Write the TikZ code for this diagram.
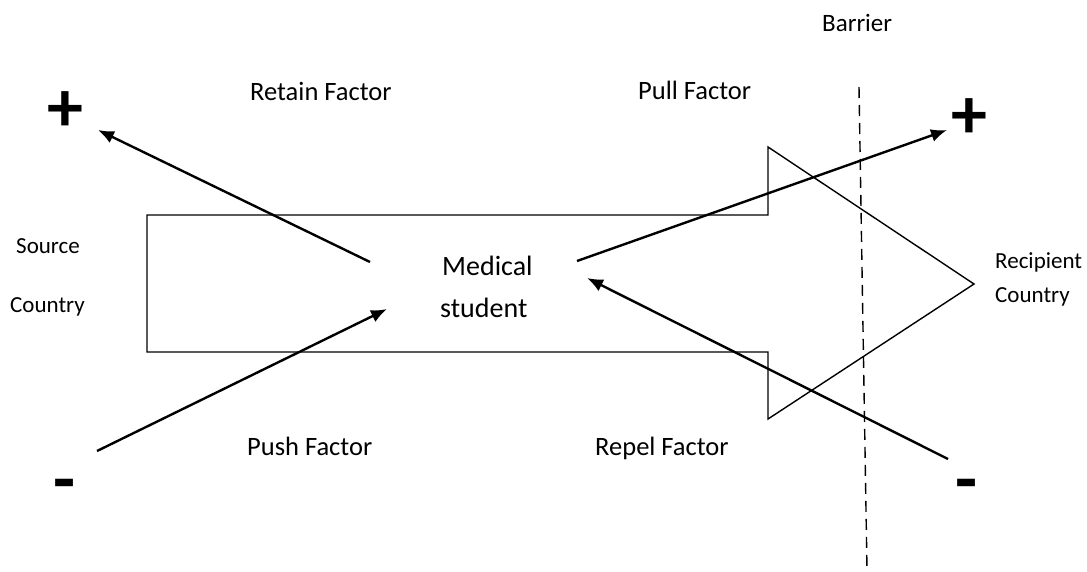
\documentclass[tikz,border=0pt]{standalone}
\usepackage{fontspec}
\setmainfont{Carlito}
\usetikzlibrary{arrows.meta}
\tikzset{
  lbl/.style={inner sep=0pt, anchor=base west, font=\fontsize{26.5}{30}\selectfont},
  side/.style={inner sep=0pt, anchor=base west, font=\fontsize{23}{28}\selectfont},
  big/.style={inner sep=0pt, anchor=base west, font=\fontsize{28}{34}\selectfont},
  sign/.style={inner sep=0pt, font=\fontsize{72}{80}\selectfont\bfseries},
  outline/.style={draw=black, line width=1.4pt, line join=miter},
  force/.style={draw=black, line width=2.4pt, -{Latex[length=16pt,width=13pt]}},
  barrier/.style={draw=black, line width=1.4pt, dash pattern=on 11pt off 7pt}
}
\begin{document}
\begin{tikzpicture}[x=1pt,y=-1pt]
\useasboundingbox (0,0) rectangle (1087,571);
% big arrow
\draw[outline] (147,215) -- (768,215) -- (768,147) -- (974,284) -- (768,419) -- (768,352) -- (147,352) -- cycle;
% barrier
\coordinate (bt) at (859,87);
\coordinate (bb) at (867,570);
\draw[barrier] (bt) -- (bb);
% labels
\node[inner sep=0pt, anchor=base west, font=\fontsize{25}{30}\selectfont] (barrier) at (822,31) {Barrier};
\node[lbl] (retain) at (250,100) {Retain Factor};
\node[lbl] (pull) at (638,99) {Pull Factor};
\node[lbl] (push) at (247,455) {Push Factor};
\node[lbl] (repel) at (595,455) {Repel Factor};
\node[side] (src1) at (16,253) {Source};
\node[side] (src2) at (10,312) {Country};
\node[side] (rec1) at (995,268) {Recipient};
\node[side] (rec2) at (995,302) {Country};
\node[big] (med1) at (442,275) {Medical};
\node[big] (med2) at (440,317) {student};
% signs
\node[sign] (plusL) at (65,112) {+};
\node[sign] (plusR) at (969,119) {+};
\node[sign] (minusL) at (65,491) {-};
\node[sign] (minusR) at (967,491) {-};
% arrow endpoints
\coordinate (retT) at (370,262);
\coordinate (retH) at (98,130);
\coordinate (pushT) at (97,451);
\coordinate (pushH) at (387,309);
\coordinate (pullT) at (577,261);
\coordinate (pullH) at (947,130);
\coordinate (repT) at (948,459);
\coordinate (repH) at (587,278);
\draw[force] (retT) -- (retH);
\draw[force] (pushT) -- (pushH);
\draw[force] (pullT) -- (pullH);
\draw[force] (repT) -- (repH);
\end{tikzpicture}
\end{document}
